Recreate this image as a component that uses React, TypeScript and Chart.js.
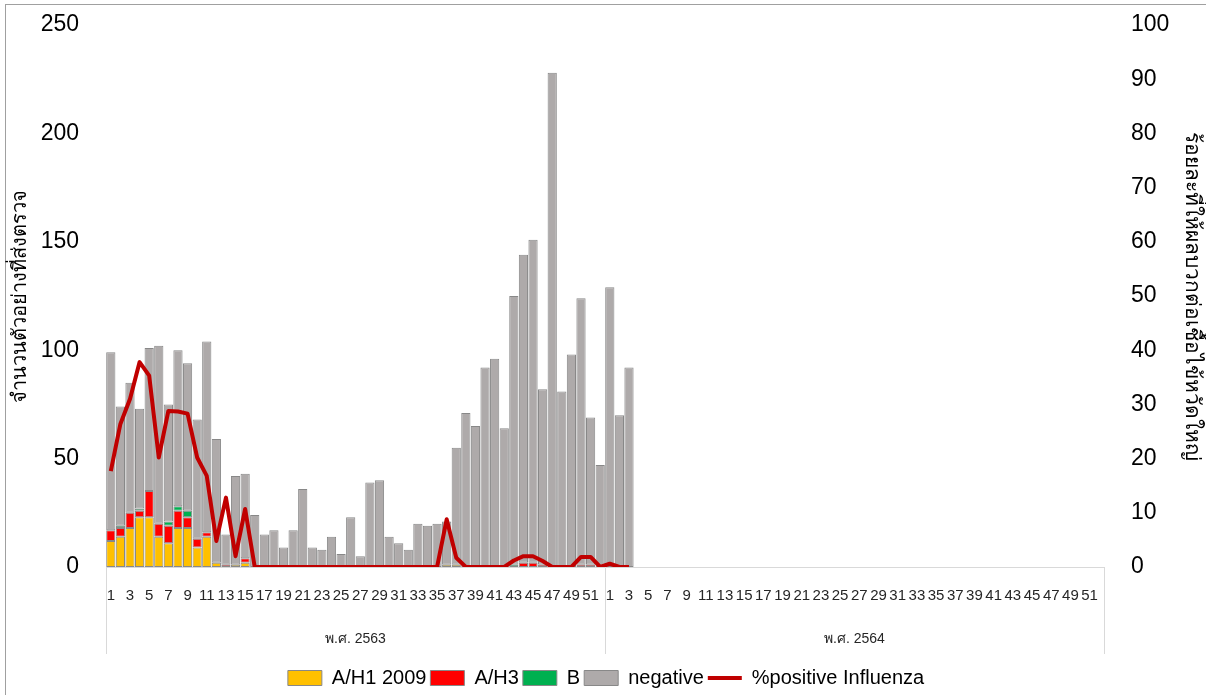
import React, { useEffect, useRef } from 'react';
import { Chart, registerables } from 'chart.js';

Chart.register(...registerables);

const FONT = "'Liberation Sans', Arial, sans-serif";

const weekNumbers = ['1','2','3','4','5','6','7','8','9','10','11','12','13','14','15','16','17','18','19','20','21','22','23','24','25','26','27','28','29','30','31','32','33','34','35','36','37','38','39','40','41','42','43','44','45','46','47','48','49','50','51','52'];
const years = ['พ.ศ. 2563', 'พ.ศ. 2564'];

// 2563 weeks 1-52, then 2564 weeks 1-3
const h1_2009 = [12,14,18,23,23,14,11,18,18,9,14,2,0,1,2,0,0,0,0,0,0,0,0,0,0,0,0,0,0,0,0,0,0,0,0,1,1,0,0,0,0,0,0,0,0,0,0,0,0,0,0,0,0,0,0];
const h3 = [5,4,7,3,12,6,8,8,5,4,2,0,1,0,2,0,0,0,0,0,0,0,0,0,0,0,0,0,0,0,0,0,0,0,0,0,0,0,0,0,0,0,0,2,2,1,0,0,0,1,1,0,1,0,0];
const fluB = [0,1,0,1,0,0,2,2,3,0,0,0,0,0,0,0,0,0,0,0,0,0,0,0,0,0,0,0,0,0,0,0,0,0,0,0,0,0,0,0,0,0,1,0,0,0,0,0,0,0,0,0,0,0,0];
const negative = [82,55,60,46,66,82,54,72,68,55,88,57,14,41,39,24,15,17,9,17,36,9,8,14,6,23,5,39,40,14,11,8,20,19,20,20,54,71,65,92,96,64,124,142,149,81,228,81,98,123,68,47,128,70,92];
const pctPositive = [17.7,26.4,31.0,37.8,35.3,20.2,28.8,28.7,28.3,20.2,16.8,4.8,12.8,2.0,10.7,0,0,0,0,0,0,0,0,0,0,0,0,0,0,0,0,0,0,0,0,8.8,1.7,0,0,0,0,0,1.2,2.0,2.0,1.1,0,0,0,1.85,1.85,0,0.6,0,0];

const yLeftTicks = { min: 0, max: 250, step: 50 };
const yRightTicks = { min: 0, max: 100, step: 10 };

export default function App() {
  const canvasRef = useRef<HTMLCanvasElement | null>(null);

  useEffect(() => {
    if (!canvasRef.current) return;
    const labels = [...weekNumbers, ...weekNumbers];
    const pad = (arr: number[]) => labels.map((_, i) => (i < arr.length ? arr[i] : null));
    const barBorder = '#888888';
    const sepColor = (c: any) =>
      c.index === undefined || c.index === 0 || c.index === 52 || c.index === 104 ? '#D9D9D9' : 'rgba(0,0,0,0)';
    const fitY = (w: number) => (s: any) => {
      s.width = w;
      s.paddingTop = 0;
      s.paddingBottom = 0;
    };

    const chart = new Chart(canvasRef.current, {
      type: 'bar',
      data: {
        labels,
        datasets: [
          { type: 'bar', label: 'A/H1 2009', data: pad(h1_2009), backgroundColor: '#FFC000', borderColor: barBorder, borderWidth: 1, borderSkipped: false, stack: 's', yAxisID: 'y', xAxisID: 'x', order: 1, barPercentage: 0.96, categoryPercentage: 1 },
          { type: 'bar', label: 'A/H3', data: pad(h3), backgroundColor: '#FF0000', borderColor: barBorder, borderWidth: 1, borderSkipped: false, stack: 's', yAxisID: 'y', xAxisID: 'x', order: 1, barPercentage: 0.96, categoryPercentage: 1 },
          { type: 'bar', label: 'B', data: pad(fluB), backgroundColor: '#00B050', borderColor: barBorder, borderWidth: 1, borderSkipped: false, stack: 's', yAxisID: 'y', xAxisID: 'x', order: 1, barPercentage: 0.96, categoryPercentage: 1 },
          { type: 'bar', label: 'negative', data: pad(negative), backgroundColor: '#AEAAAA', borderColor: barBorder, borderWidth: 1, borderSkipped: false, stack: 's', yAxisID: 'y', xAxisID: 'x', order: 1, barPercentage: 0.96, categoryPercentage: 1 },
          { type: 'line', label: '%positive Influenza', data: pad(pctPositive), borderColor: '#C00000', backgroundColor: '#C00000', borderWidth: 4, pointRadius: 0, tension: 0, yAxisID: 'y1', xAxisID: 'x', order: 0, spanGaps: false, borderJoinStyle: 'round' },
        ] as any,
      },
      options: {
        animation: false,
        responsive: true,
        maintainAspectRatio: false,
        layout: { padding: { top: 25, left: 6, right: 0, bottom: -3 } },
        plugins: {
          tooltip: { enabled: false },
          legend: {
            position: 'bottom',
            labels: {
              usePointStyle: true,
              pointStyleWidth: 34,
              boxHeight: 15,
              padding: 4,
              color: '#000',
              font: { size: 20, family: FONT },
              sort: (a: any, b: any) => a.datasetIndex - b.datasetIndex,
              generateLabels: (ch: any) => {
                const items = (Chart.defaults.plugins.legend.labels as any).generateLabels(ch);
                return items.map((it: any) => ({
                  ...it,
                  pointStyle: it.datasetIndex === 4 ? 'line' : 'rect',
                  lineWidth: it.datasetIndex === 4 ? 4 : 1,
                }));
              },
            },
          },
        },
        scales: {
          x: {
            type: 'category',
            position: 'bottom',
            weight: 0,
            offset: true,
            grid: {
              display: true,
              drawOnChartArea: false,
              drawTicks: true,
              tickLength: 87,
              offset: true,
              color: sepColor,
              tickColor: sepColor,
              lineWidth: 1,
              tickWidth: 1,
            },
            border: { display: true, color: '#D9D9D9', width: 1 },
            ticks: {
              autoSkip: false,
              maxRotation: 0,
              minRotation: 0,
              padding: -67,
              color: '#262626',
              font: { size: 15, family: FONT },
              callback: (_v: any, i: number) => (i % 2 === 0 ? labels[i] : ''),
            },
            afterFit: (s: any) => { s.height = 40; },
          },
          x2: {
            type: 'category',
            labels: years,
            position: 'bottom',
            weight: 1,
            offset: true,
            grid: { display: false, drawTicks: false },
            border: { display: false },
            ticks: { padding: 24, color: '#262626', font: { size: 14, family: FONT }, maxRotation: 0 },
            afterFit: (s: any) => { s.height = 57; },
          },
          y: {
            position: 'left',
            min: yLeftTicks.min,
            max: yLeftTicks.max,
            grid: { display: false, drawTicks: false },
            border: { display: false },
            ticks: { stepSize: yLeftTicks.step, padding: 27, color: '#000', font: { size: 23, family: FONT } },
            title: { display: true, text: 'จำนวนตัวอย่างที่ส่งตรวจ', color: '#000', font: { size: 20, family: FONT }, padding: { top: 2, bottom: 0 } },
            afterFit: fitY(100),
          },
          y1: {
            position: 'right',
            min: yRightTicks.min,
            max: yRightTicks.max,
            grid: { display: false, drawTicks: false },
            border: { display: false },
            ticks: { stepSize: yRightTicks.step, padding: 27, color: '#000', font: { size: 23, family: FONT } },
            title: { display: true, text: 'ร้อยละที่ให้ผลบวกต่อเชื้อไข้หวัดใหญ่', color: '#000', font: { size: 21, family: FONT }, padding: { top: 2, bottom: 0 } },
            afterFit: fitY(102),
          },
        },
      } as any,
    });
    return () => chart.destroy();
  }, []);

  return (
    <div style={{ position: 'fixed', left: 0, top: 0, width: 1206, height: 695, background: '#fff', overflow: 'hidden' }}>
      <div style={{ position: 'absolute', left: 5, top: 4, width: 1201, height: 691, borderLeft: '1px solid #A0A0A0', borderTop: '1px solid #A0A0A0', boxSizing: 'border-box' }} />
      <div style={{ position: 'absolute', left: 0, top: 0, width: 1206, height: 695 }}>
        <canvas ref={canvasRef} />
      </div>
    </div>
  );
}
